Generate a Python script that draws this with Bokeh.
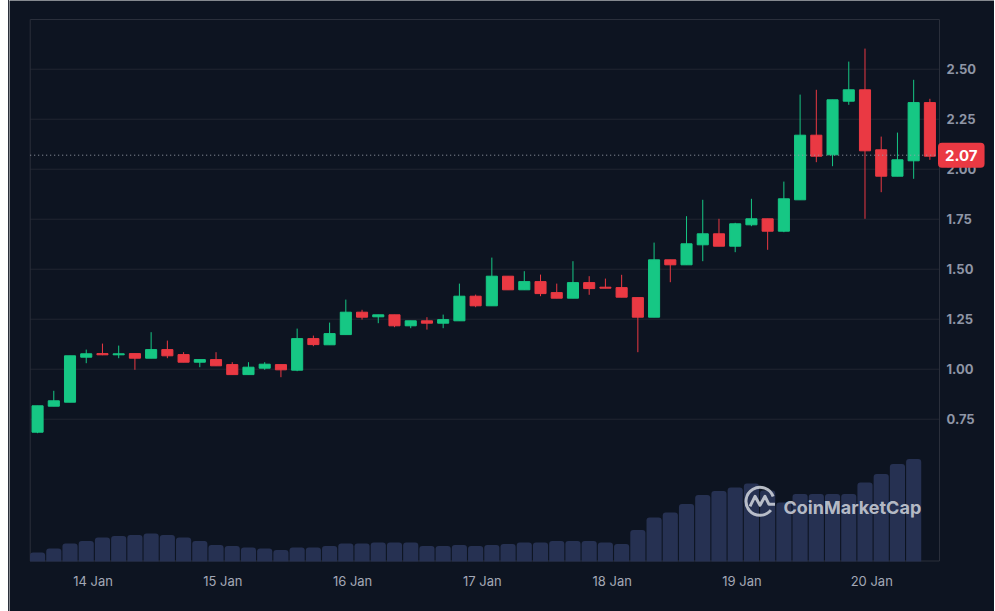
import numpy as np
from bokeh.plotting import figure
from bokeh.models import Range1d, Label
from bokeh.core.properties import value
from bokeh.embed import file_html
from bokeh.resources import INLINE

# ---- data (3-hour candles; x = hours after 14 Jan 00:00) ----
opens  = [0.685, 0.815, 0.835, 1.060, 1.078, 1.072, 1.078, 1.055, 1.098, 1.073,
          1.035, 1.048, 1.023, 0.973, 1.005, 1.023, 0.995, 1.153, 1.122, 1.173,
          1.285, 1.262, 1.272, 1.217, 1.242, 1.230, 1.242, 1.365, 1.317, 1.465,
          1.397, 1.438, 1.383, 1.355, 1.433, 1.410, 1.408, 1.358, 1.260, 1.547,
          1.522, 1.622, 1.677, 1.615, 1.722, 1.752, 1.690, 1.847, 2.170, 2.072,
          2.340, 2.397, 2.097, 1.965, 2.042, 2.333]
highs  = [0.817, 0.892, 1.067, 1.098, 1.128, 1.118, 1.078, 1.185, 1.143, 1.085,
          1.048, 1.085, 1.035, 1.035, 1.035, 1.023, 1.203, 1.168, 1.233, 1.348,
          1.297, 1.272, 1.272, 1.242, 1.260, 1.273, 1.428, 1.373, 1.558, 1.465,
          1.490, 1.473, 1.428, 1.540, 1.465, 1.453, 1.472, 1.358, 1.633, 1.547,
          1.765, 1.847, 1.752, 1.732, 1.852, 1.752, 1.938, 2.373, 2.397, 2.347,
          2.538, 2.603, 2.163, 2.183, 2.447, 2.352]
lows   = [0.680, 0.815, 0.835, 1.030, 1.070, 1.055, 0.997, 1.055, 1.055, 1.035,
          1.010, 1.017, 0.973, 0.973, 0.997, 0.960, 0.990, 1.115, 1.122, 1.173,
          1.248, 1.230, 1.210, 1.205, 1.198, 1.205, 1.242, 1.310, 1.317, 1.397,
          1.397, 1.365, 1.355, 1.355, 1.372, 1.405, 1.360, 1.085, 1.260, 1.435,
          1.522, 1.540, 1.615, 1.585, 1.715, 1.597, 1.685, 1.847, 2.035, 2.015,
          2.322, 1.752, 1.885, 1.965, 1.952, 2.047]
closes = [0.817, 0.842, 1.067, 1.077, 1.072, 1.077, 1.055, 1.098, 1.067, 1.035,
          1.048, 1.017, 0.973, 1.010, 1.025, 0.997, 1.153, 1.123, 1.178, 1.285,
          1.260, 1.272, 1.217, 1.242, 1.230, 1.248, 1.365, 1.317, 1.465, 1.397,
          1.438, 1.378, 1.355, 1.433, 1.403, 1.405, 1.360, 1.260, 1.547, 1.522,
          1.627, 1.677, 1.615, 1.727, 1.752, 1.690, 1.852, 2.170, 2.065, 2.347,
          2.397, 2.092, 1.965, 2.047, 2.333, 2.065]
volumes = [4.5, 6.5, 9.0, 10.2, 12.0, 12.7, 13.3, 14.0, 13.3, 12.0,
           10.2, 8.3, 7.7, 7.0, 6.5, 5.8, 7.0, 7.0, 7.7, 9.0,
           9.0, 9.5, 9.5, 9.5, 7.7, 7.7, 8.3, 7.7, 8.3, 8.8,
           9.5, 9.5, 10.2, 10.2, 10.2, 9.5, 8.8, 15.8, 22.0, 24.5,
           28.8, 33.3, 35.2, 37.0, 39.0, 35.5, 29.5, 33.8, 33.8, 33.8,
           33.8, 39.5, 43.8, 48.8, 51.3]
first_candle_hour = -10.25
candle_step_hours = 3
day_ticks = [0, 24, 48, 72, 96, 120, 144]
day_labels = ["14 Jan", "15 Jan", "16 Jan", "17 Jan", "18 Jan", "19 Jan", "20 Jan"]
price_ticks = [0.75, 1.00, 1.25, 1.50, 1.75, 2.00, 2.25, 2.50]
price_labels = ["0.75", "1.00", "1.25", "1.50", "1.75", "2.00", "2.25", "2.50"]
current_price = 2.07
current_label = "2.07"

# ---- styles / layout ----
BG = "#0d1421"
GREEN = "#16c784"
RED = "#ea3943"
GRID = "#222632"
BORDER = "#2a2f3b"
VOL = "#263152"
FONT = "Inter"

# page-pixel layout of the chart box
PX_PER_HOUR = 5.408
X0_PAGE = 92.5          # page x of 14 Jan 00:00
PX_PER_PRICE = 200.0
Y2_PAGE = 168.7         # page y of price 2.00
VOL_PX_PER_UNIT = 2.0
def hx(px): return (px - X0_PAGE) / PX_PER_HOUR
def py(pyv): return 2.0 - (pyv - Y2_PAGE) / PX_PER_PRICE

BOX_L, BOX_R, BOX_T, BOX_B = 29.7, 939.0, 19.0, 560.5
VOL_BASE = 561.0
FRAME_L, FRAME_R, FRAME_T, FRAME_B = 9.0, 995.0, 0.0, 611.0

hours = first_candle_hour + candle_step_hours * np.arange(len(opens))
o = np.array(opens); c = np.array(closes)
colors = [GREEN if cc >= oo else RED for oo, cc in zip(o, c)]

p = figure(width=986, height=611, output_backend="svg", toolbar_location=None,
           x_range=Range1d(hx(FRAME_L), hx(FRAME_R)),
           y_range=Range1d(py(FRAME_B), py(FRAME_T)),
           x_axis_location=None, y_axis_location=None,
           min_border_left=0, min_border_right=0, min_border_top=0, min_border_bottom=0)
p.extra_y_ranges = {"vol": Range1d(-(FRAME_B - VOL_BASE) / VOL_PX_PER_UNIT,
                                   VOL_BASE / VOL_PX_PER_UNIT)}
p.styles = {"margin-left": "8px", "border-left": "1px solid #2b303b"}

p.background_fill_color = BG
p.border_fill_color = BG
p.outline_line_color = None
p.xgrid.visible = False
p.ygrid.visible = False

xl, xr = hx(BOX_L), hx(BOX_R)

# horizontal grid lines
p.segment(x0=xl, x1=xr, y0=price_ticks, y1=price_ticks, line_color=GRID, line_width=1)

# chart box borders
p.segment(x0=[xl, xl, xl, xr], x1=[xr, xr, xl, xr],
          y0=[py(BOX_T), py(BOX_B), py(BOX_T), py(BOX_T)],
          y1=[py(BOX_T), py(BOX_B), py(BOX_B), py(BOX_B)],
          line_color=BORDER, line_width=1)

# volume bars
p.vbar(x=hours[:len(volumes)], top=volumes, bottom=0, width=2.8, y_range_name="vol",
       fill_color=VOL, line_color=None, border_radius=(3, 3, 0, 0))

# candles
p.segment(x0=hours, x1=hours, y0=lows, y1=highs, line_color=colors, line_width=1)
p.vbar(x=hours, top=np.maximum(o, c), bottom=np.minimum(o, c), width=2.05,
       fill_color=colors, line_color=colors, line_width=1)

# current price dotted line
p.segment(x0=[xl], x1=[xr], y0=[current_price], y1=[current_price],
          line_color="#9aa0ad", line_dash="1 3", line_width=1)

# price scale labels (right side)
p.text(x=hx(946), y=price_ticks, text=price_labels, text_font=value(FONT),
       text_font_size="13px", text_font_style="bold", text_color="#8f96a6",
       text_align="left", text_baseline="middle")

# date labels (bottom)
p.text(x=day_ticks, y=py(580.5), text=day_labels, text_font=value(FONT),
       text_font_size="13px", text_color="#a3a8b6",
       text_align="center", text_baseline="middle")

# watermark logo
lx, ly = hx(759.5), py(500.8)
p.arc(x=[lx], y=[ly], radius=14, radius_units="screen", start_angle=0.35, end_angle=5.6,
      line_color="#c9cdd6", line_width=3, line_alpha=0.9)
mx = lx + np.array([-10, -5, 0, 5, 9, 15]) / PX_PER_HOUR
my = ly - np.array([5, -5, 4, -5, 3, 3]) / PX_PER_PRICE
p.line(x=mx, y=my, line_color="#c9cdd6", line_width=3, line_alpha=0.9, line_join="round")
p.add_layout(Label(x=hx(783), y=py(506.7), text="CoinMarketCap", text_font=FONT,
                   text_font_size="18px", text_font_style="bold", text_color="#c9cdd6",
                   text_alpha=0.9, text_baseline="alphabetic", text_align="left"))

# current price tag
p.add_layout(Label(x=hx(937.5), y=current_price, text=current_label, text_font=FONT,
                   text_font_size="15px", text_font_style="bold", text_color="white",
                   text_align="left", text_baseline="middle",
                   background_fill_color=RED, padding=7, border_radius=4))

html = file_html(p, INLINE)
html = html.replace("<body>", '<body style="background-color:#0d1421;">', 1)
open("out.html", "w").write(html)
